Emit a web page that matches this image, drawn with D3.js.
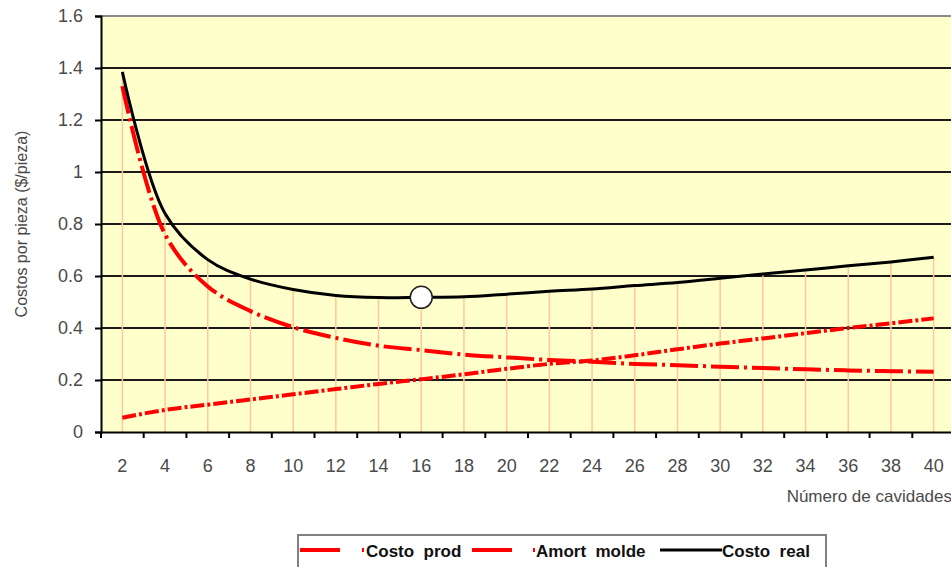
<!DOCTYPE html>
<html>
<head>
<meta charset="utf-8">
<script src="https://cdn.jsdelivr.net/npm/d3@7/dist/d3.min.js"></script>
<style>
  html, body { margin: 0; padding: 0; background: #fff; }
  svg { display: block; }
  text { font-family: "Liberation Sans", Arial, sans-serif; }
</style>
</head>
<body>
<svg id="chart" width="951" height="567"></svg>
<script>
// Number of mould cavities (category axis)
const cavities = [2, 4, 6, 8, 10, 12, 14, 16, 18, 20, 22, 24, 26, 28, 30, 32, 34, 36, 38, 40];
// Production cost per piece
const costoProd = [0.055, 0.085, 0.105, 0.125, 0.145, 0.165, 0.185, 0.203, 0.222, 0.243,
                   0.262, 0.275, 0.295, 0.318, 0.340, 0.360, 0.380, 0.400, 0.418, 0.437];
// Mould amortisation per piece
const amortMolde = [1.330, 0.760, 0.560, 0.465, 0.403, 0.362, 0.332, 0.315, 0.298, 0.287,
                    0.277, 0.270, 0.262, 0.257, 0.251, 0.246, 0.241, 0.237, 0.234, 0.232];
// Real cost per piece
const costoReal = [1.385, 0.840, 0.663, 0.588, 0.548, 0.525, 0.517, 0.518, 0.520, 0.530,
                   0.541, 0.550, 0.563, 0.575, 0.591, 0.608, 0.623, 0.639, 0.654, 0.672];
// Y axis tick values
const yTicks = [0, 0.2, 0.4, 0.6, 0.8, 1, 1.2, 1.4, 1.6];
// Highlighted optimum (number of cavities)
const optimo = 16;
const seriesNames = ["Costo  prod", "Amort  molde", "Costo  real"];

const svg = d3.select("#chart");
const plotL = 101, plotR = 955, plotT = 16, plotB = 432;

const x = d3.scaleBand().domain(cavities).range([plotL, plotR]).paddingInner(0).paddingOuter(0);
const cx = d => x(d) + x.bandwidth() / 2;
const y = d3.scaleLinear().domain([0, 1.6]).range([plotB, plotT]);

// plot area
svg.append("rect").attr("x", plotL).attr("y", plotT)
  .attr("width", plotR - plotL).attr("height", plotB - plotT)
  .attr("fill", "#FFFFCC");

// horizontal gridlines
svg.append("g").selectAll("line").data(yTicks.filter(v => v > 0 && v < 1.6)).join("line")
  .attr("x1", plotL).attr("x2", plotR)
  .attr("y1", d => y(d)).attr("y2", d => y(d))
  .attr("stroke", "#1a1a1a").attr("stroke-width", 2);
svg.append("line").attr("x1", plotL).attr("x2", plotR)
  .attr("y1", y(1.6)).attr("y2", y(1.6))
  .attr("stroke", "#8a8a8a").attr("stroke-width", 2);

// drop lines from the top series to the axis
svg.append("g").selectAll("line").data(cavities).join("line")
  .attr("x1", d => cx(d)).attr("x2", d => cx(d))
  .attr("y1", plotB).attr("y2", (d, i) => y(costoReal[i]))
  .attr("stroke", "#FFC896").attr("stroke-width", 1.5);

// y axis
const yAxis = svg.append("g").attr("transform", `translate(${plotL},0)`)
  .call(d3.axisLeft(y).tickValues(yTicks).tickSize(6).tickPadding(12)
    .tickFormat(d => d3.format("")(+d.toFixed(1))));
yAxis.select(".domain").attr("stroke", "#000").attr("stroke-width", 2);
yAxis.selectAll(".tick line").attr("stroke", "#000").attr("stroke-width", 2);
yAxis.selectAll("text").attr("font-size", 18).attr("fill", "#4a4a4a");

// x axis: labels at category centres, ticks at category boundaries
const xAxis = svg.append("g").attr("transform", `translate(0,${plotB})`)
  .call(d3.axisBottom(x).tickSize(0).tickPadding(27));
xAxis.select(".domain").attr("stroke", "#000").attr("stroke-width", 2);
xAxis.selectAll("text").attr("font-size", 18).attr("fill", "#4a4a4a");
xAxis.append("g").selectAll("line").data(cavities).join("line")
  .attr("x1", d => x(d)).attr("x2", d => x(d))
  .attr("y1", 0).attr("y2", 6)
  .attr("stroke", "#000").attr("stroke-width", 2);

// axis titles
svg.append("text").attr("x", 952).attr("y", 502).attr("text-anchor", "end")
  .attr("font-size", 17).attr("fill", "#4a4a4a").text("Número de cavidades");
svg.append("text").attr("transform", "translate(27,224) rotate(-90)")
  .attr("text-anchor", "middle").attr("font-size", 16).attr("fill", "#4a4a4a")
  .text("Costos por pieza ($/pieza)");

// series lines
const line = d3.line().x((d, i) => cx(cavities[i])).y(d => y(d)).curve(d3.curveCatmullRom.alpha(0.5));
svg.append("path").datum(costoProd).attr("d", line)
  .attr("fill", "none").attr("stroke", "#FF0000").attr("stroke-width", 4)
  .attr("stroke-dasharray", "14,3,3,3");
svg.append("path").datum(amortMolde).attr("d", line)
  .attr("fill", "none").attr("stroke", "#FF0000").attr("stroke-width", 4)
  .attr("stroke-dasharray", "28,5,3,5");
svg.append("path").datum(costoReal).attr("d", line)
  .attr("fill", "none").attr("stroke", "#000").attr("stroke-width", 3);

// optimum marker
const oi = cavities.indexOf(optimo);
svg.append("circle").attr("cx", cx(optimo)).attr("cy", y(costoReal[oi])).attr("r", 11)
  .attr("fill", "#fff").attr("stroke", "#222").attr("stroke-width", 1.5);

// legend
const lg = svg.append("g");
lg.append("rect").attr("x", 298).attr("y", 535).attr("width", 528).attr("height", 40)
  .attr("fill", "#fff").attr("stroke", "#808080").attr("stroke-width", 2);
const items = [
  { name: seriesNames[0], color: "#FF0000", x0: 300, x1: 340, dot: 362, tx: 366 },
  { name: seriesNames[1], color: "#FF0000", x0: 472, x1: 512, dot: 533, tx: 536 },
  { name: seriesNames[2], color: "#000", x0: 660, x1: 722, dot: null, tx: 722 }
];
items.forEach(it => {
  lg.append("line").attr("x1", it.x0).attr("x2", it.x1).attr("y1", 550).attr("y2", 550)
    .attr("stroke", it.color).attr("stroke-width", it.dot ? 4 : 3);
  if (it.dot) lg.append("rect").attr("x", it.dot).attr("y", 548).attr("width", 2).attr("height", 4)
    .attr("fill", it.color);
  lg.append("text").attr("x", it.tx).attr("y", 557).attr("font-size", 17).attr("font-weight", "bold")
    .attr("fill", "#111").attr("xml:space", "preserve").style("white-space", "pre").text(it.name);
});
</script>
</body>
</html>
